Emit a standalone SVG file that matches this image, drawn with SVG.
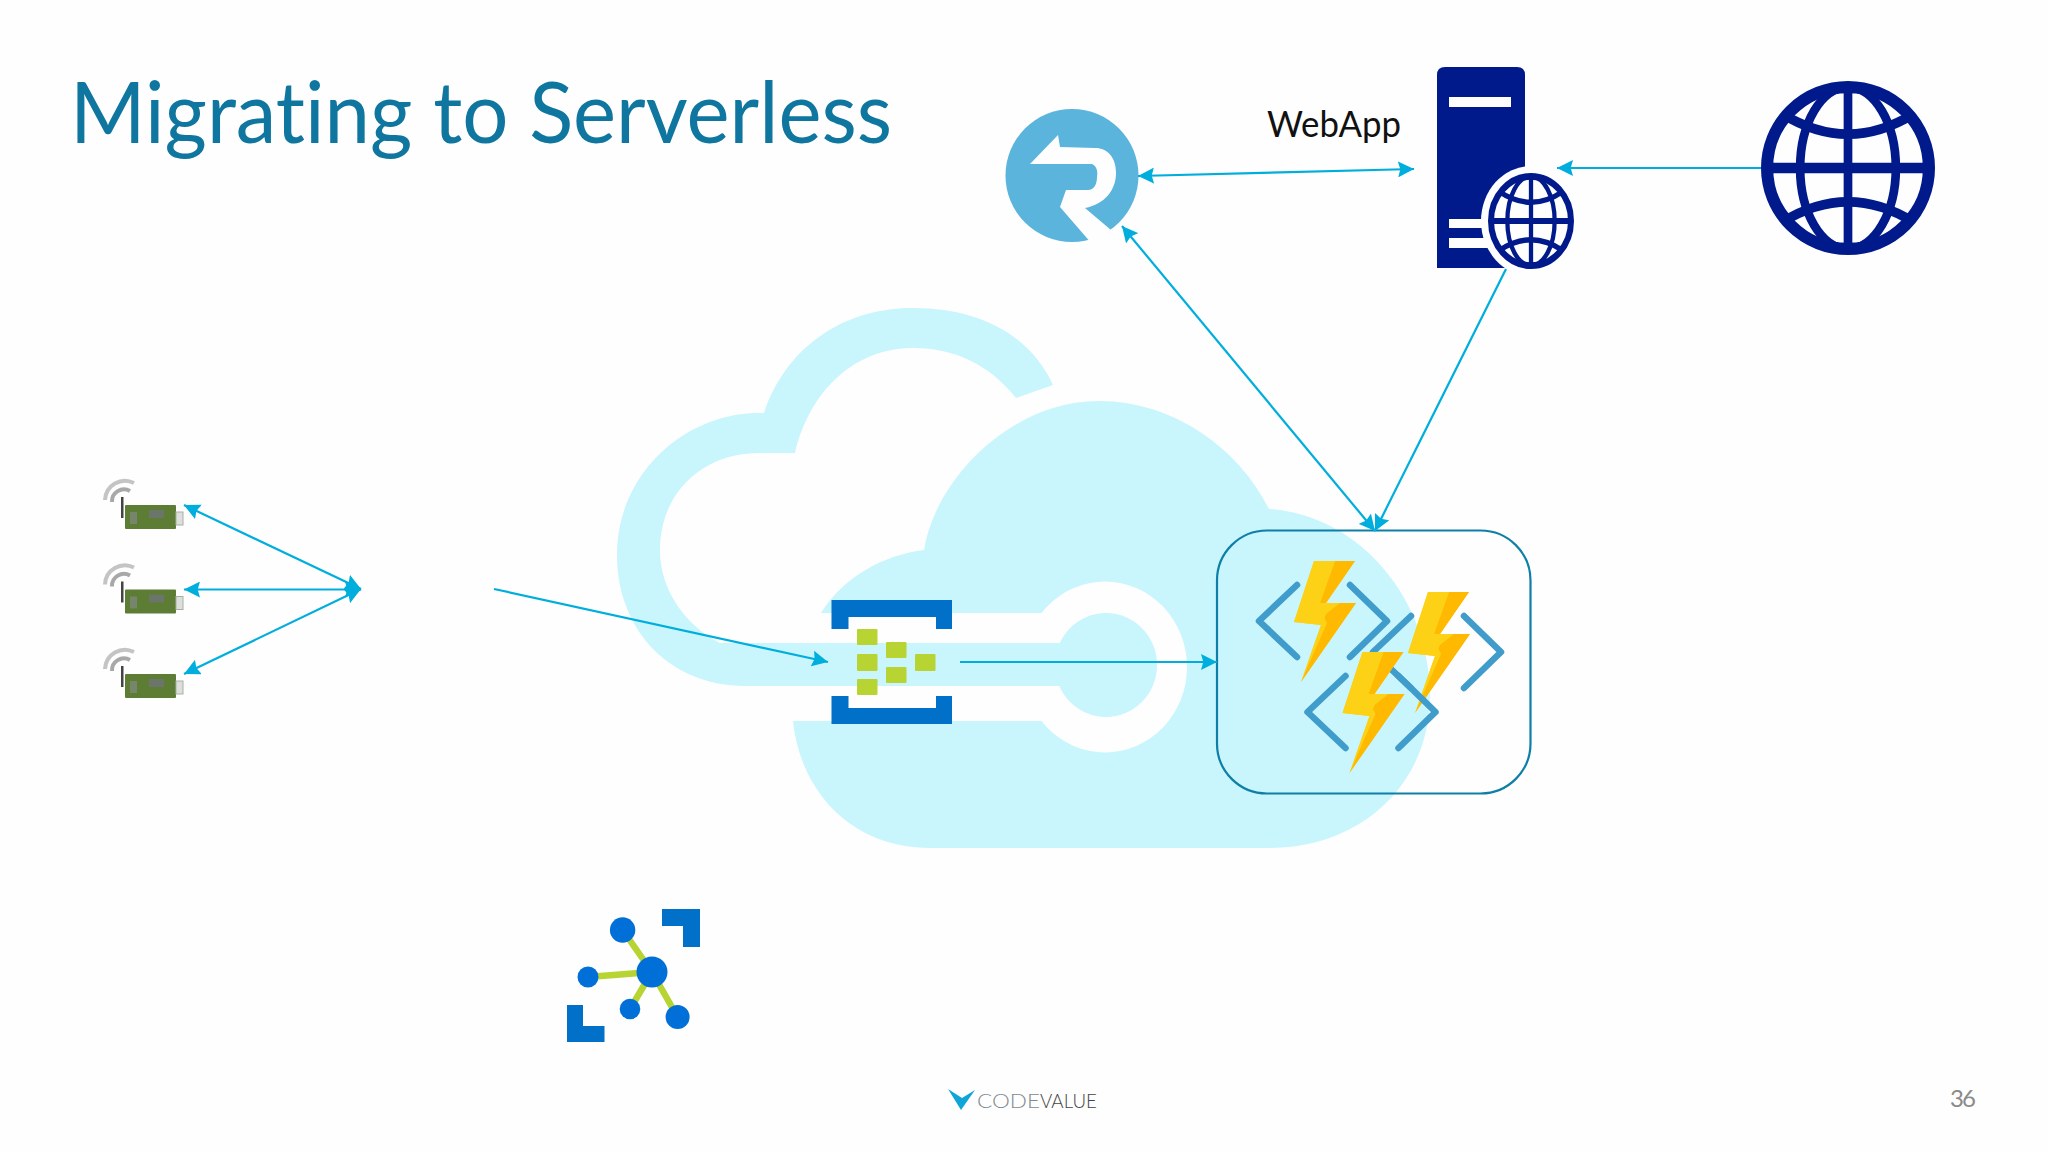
<svg xmlns="http://www.w3.org/2000/svg" width="2048" height="1152" viewBox="0 0 2048 1152">
<style>
.c{stroke:#00AEDD;stroke-width:2.2;fill:none}
.ms{marker-start:url(#ah)}
.me{marker-end:url(#ah)}
.cy{fill:#C9F5FD}
.w{fill:#FEFEFE}
.nv{fill:#001A8C}
.gl{fill:none;stroke:#001A8C}
.blue{fill:#0070C8}
.gr{fill:#B8D432}
.ch{fill:none;stroke:#3F9CCB;stroke-width:6.500;stroke-linecap:round;stroke-linejoin:round}
.b1{fill:#FCD116}
.b2{fill:#FFB900}
.n{fill:#0070D8}
.l{stroke:#B8D432;stroke-width:6.5}
.t{font-family:Lato,"Liberation Sans",sans-serif;font-variant-ligatures:none}
</style>
<defs>
<marker id="ah" markerUnits="userSpaceOnUse" markerWidth="16" markerHeight="16" refX="14" refY="7" orient="auto-start-reverse" viewBox="0 0 14 14"><path d="M0,0L14,7L0,14L2,7Z" fill="#00AEDD"/></marker>
<g id="globe">
<circle r="93" stroke-width="14" class="gl"/>
<ellipse rx="55" ry="93" stroke-width="10" class="gl"/>
<path d="M0,-93V93" stroke-width="10" class="gl"/>
<path d="M-93,0H93" stroke-width="12" class="gl"/>
<path d="M-75,-62Q0,-16 75,-62M-75,62Q0,16 75,62" stroke-width="11" class="gl"/>
</g>
<g id="device">
<path d="M105,500A20,20 0 0 1 134,483" fill="none" stroke="#C4C4C4" stroke-width="4"/>
<path d="M112,502A12,12 0 0 1 130,491" fill="none" stroke="#A8A8A8" stroke-width="4"/>
<rect x="121" y="497" width="2.500" height="21" fill="#444"/>
<rect x="125" y="505" width="51" height="24" rx="1" fill="#5E7D34"/>
<rect x="149" y="510" width="15" height="8" fill="#6B7569"/>
<rect x="130" y="512" width="7" height="12" fill="#75866A"/>
<rect x="176" y="512" width="7" height="13" fill="#DDE0DA" stroke="#A8AEA4"/>
</g>
<g id="fn">
<path class="ch" d="M1297,585L1259,621L1297,657M1350,585L1387,621L1350,657"/>
<path class="b1" d="M1314,561H1355L1326,603H1356L1301,682L1321,625L1294,622Z"/>
<path class="b2" d="M1335,561H1355L1326,603H1356L1301,682L1327,623L1317,603H1320Z"/>
<path class="b1" d="M1314,561H1335L1320,603H1340L1326,614L1301,682L1321,625L1294,622Z"/>
</g>
</defs>
<rect width="2048" height="1152" fill="#FEFEFE"/>
<g id="cloud">
<path class="cy" d="M1053,385C1030,335 980,308 913,308C840,308 785,350 764,413C690,410 617,470 617,555C617,630 670,686 745,686L1056,686V643H720C685,625 660,590 660,550C660,495 700,453 760,453H795C810,390 855,348 913,348C955,348 990,365 1016,398Z"/>
<path class="cy" d="M821,613C845,575 885,555 924,550C935,480 1010,401 1099,401C1175,401 1240,450 1269,509C1360,515 1430,600 1430,695C1430,785 1360,848 1270,848H930C850,848 800,790 793,721V686H821Z"/>
<rect class="w" x="821" y="613" width="260" height="30"/>
<rect class="w" x="793" y="686" width="280" height="35"/>
<ellipse class="w" cx="1105" cy="667" rx="82" ry="85.500"/>
<ellipse class="cy" cx="1106" cy="665" rx="51" ry="52"/>
<rect class="cy" x="745" y="643" width="340" height="43"/>
</g>
<text id="title" class="t" x="70" y="143" font-size="86" fill="#0F769F" textLength="822" lengthAdjust="spacingAndGlyphs">Migrating to Serverless</text>
<g id="relay">
<circle cx="1072" cy="175.500" r="66.500" fill="#5BB4DC"/>
<path class="w" d="M1058,135L1030,164H1092C1097,166 1098,172 1097,177C1097,184 1094,190 1088,190H1066L1060,207L1092,244L1111,230L1085,208C1105,204 1116,190 1116,173C1116,158 1108,148 1095,148L1060,147Z"/>
</g>
<text id="webapp" class="t" x="1267" y="137" font-size="37" fill="#111" textLength="134" lengthAdjust="spacingAndGlyphs">WebApp</text>
<g id="server">
<path class="nv" d="M1437,75Q1437,67 1445,67H1517Q1525,67 1525,75V268H1437Z"/>
<rect class="w" x="1449" y="97" width="62" height="10"/>
<rect class="w" x="1449" y="219" width="40" height="9"/>
<rect class="w" x="1449" y="238" width="40" height="10"/>
<ellipse class="w" cx="1531" cy="221" rx="50" ry="55"/>
<use href="#globe" transform="translate(1531 221) scale(.43 .48)"/>
</g>
<g id="internet"><use href="#globe" transform="translate(1848 168) scale(.87)"/></g>
<g id="devices">
<use href="#device"/>
<use href="#device" y="84.500"/>
<use href="#device" y="169"/>
</g>
<g id="eventhub">
<path class="blue" d="M831.500,600H952V629H936V617H848.500V629H831.500Z"/>
<path class="blue" d="M831.500,724H952V696H936V708H848.500V696H831.500Z"/>
<rect class="gr" x="857" y="629" width="20.500" height="16" rx="1"/>
<rect class="gr" x="857" y="654" width="20.500" height="17" rx="1"/>
<rect class="gr" x="857" y="679" width="20.500" height="16" rx="1"/>
<rect class="gr" x="886" y="642" width="20.500" height="16" rx="1"/>
<rect class="gr" x="886" y="667" width="20.500" height="16" rx="1"/>
<rect class="gr" x="915" y="654" width="20.500" height="17" rx="1"/>
</g>
<g id="functions">
<rect x="1217" y="530.500" width="313.500" height="263" rx="50" fill="none" stroke="#0E7FA6" stroke-width="2.200"/>
<use href="#fn"/>
<use href="#fn" transform="translate(114 31)"/>
<use href="#fn" transform="translate(48.500 91)"/>
</g>
<g id="iothub">
<path class="blue" d="M662,909H700V947H683V926H662Z"/>
<path class="blue" d="M567,1005H583V1026H604.500V1042H567Z"/>
<path class="l" d="M652,972L622.600,930M652,972L588,977M652,972L630,1009M652,972L677.600,1017"/>
<circle class="n" cx="652" cy="972" r="15.500"/>
<circle class="n" cx="622.600" cy="930" r="12.700"/>
<circle class="n" cx="588" cy="977" r="10.500"/>
<circle class="n" cx="630" cy="1009" r="10.300"/>
<circle class="n" cx="677.600" cy="1017" r="12"/>
</g>
<g id="connectors">
<line class="c ms me" x1="1138" y1="176" x2="1414" y2="169"/>
<line class="c me" x1="1761" y1="168" x2="1557" y2="168"/>
<line class="c ms me" x1="1122" y1="226" x2="1375" y2="531"/>
<line class="c me" x1="1506" y1="269" x2="1375" y2="531"/>
<line class="c me" x1="960" y1="662" x2="1217" y2="662"/>
<line class="c me" x1="494" y1="589" x2="828" y2="662"/>
<line class="c ms me" x1="184" y1="505" x2="361" y2="589"/>
<line class="c ms me" x1="184" y1="589.500" x2="361" y2="589.500"/>
<line class="c ms me" x1="184" y1="674" x2="361" y2="589"/>
</g>
<g id="logo">
<path d="M948,1089L962,1098L975,1090L961,1110Z" fill="#0FA5D8"/>
<text class="t" x="977" y="1108" font-size="19" font-weight="300" fill="#808A90" textLength="63" lengthAdjust="spacingAndGlyphs">CODE</text>
<text class="t" x="1040" y="1108" font-size="19" font-weight="300" fill="#444" textLength="57" lengthAdjust="spacingAndGlyphs">VALUE</text>
</g>
<text id="page" class="t" x="1950" y="1107" font-size="24" fill="#8A8A8A" textLength="26">36</text>
</svg>
